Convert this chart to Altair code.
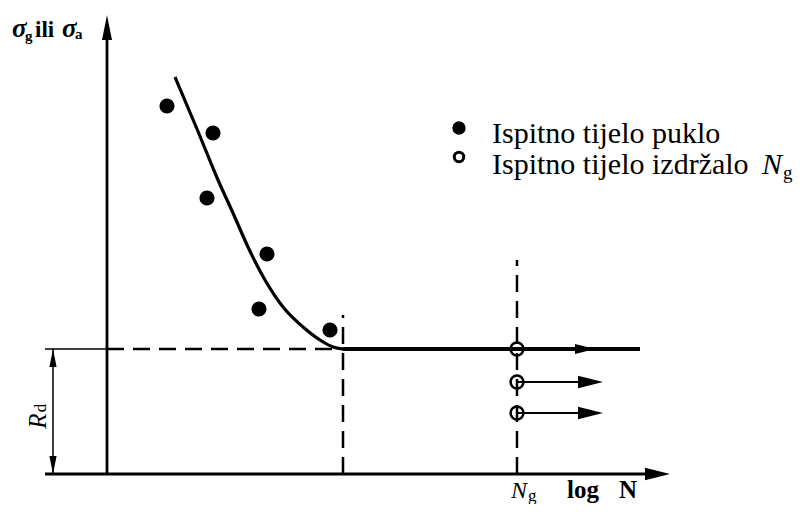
import altair as alt
import pandas as pd

# ---------------- data (schematic units: x = log N, y = stress) ----------------
# failed specimens
fail_x = [60, 106, 100, 160, 152, 223]
fail_y = [368, 341, 276, 220, 165, 144]
# fitted Woehler curve
curve_x = [68, 90, 111, 126, 141, 158, 176, 196, 213, 226, 236]
curve_y = [397, 345, 294, 261, 227, 194, 167, 147, 134, 127, 125]
# run-outs (survived N_g)
runout_x = [410, 410, 410]
runout_y = [125, 92, 61]
# characteristic values
Rd = 125          # fatigue strength
N_knee = 236      # knee of the curve
N_g = 410         # limit number of cycles

legend_labels = ["Ispitno tijelo puklo", "Ispitno tijelo izdržalo "]

# ---------------- scales ----------------
X = lambda f="x": alt.X(f"{f}:Q", scale=alt.Scale(domain=[-99, 691], nice=False, zero=False), axis=None)
Y = lambda f="y": alt.Y(f"{f}:Q", scale=alt.Scale(domain=[-30, 466], nice=False, zero=False), axis=None)

def segs(rows, **kw):
    df = pd.DataFrame(rows, columns=["x", "y", "x2", "y2"])
    return alt.Chart(df).mark_rule(color="black", **kw).encode(
        x=X(), y=Y(), x2="x2:Q", y2="y2:Q")

def pts(xs, ys, **kw):
    df = pd.DataFrame({"x": xs, "y": ys})
    return alt.Chart(df).mark_point(color="black", opacity=1, **kw).encode(x=X(), y=Y())

def txt(xs, ys, texts, **kw):
    df = pd.DataFrame({"x": xs, "y": ys, "t": texts})
    base = dict(font="Liberation Serif", color="black", align="left", baseline="alphabetic")
    base.update(kw)
    return alt.Chart(df).mark_text(**base).encode(x=X(), y=Y(), text="t:N")

ARROW_R = "M0,0L-2,-0.5L-2,0.5Z"
ARROW_U = "M0,0L-0.4,2L0.4,2Z"
ARROW_D = "M0,0L-0.4,-2L0.4,-2Z"

layers = []
# axes
layers.append(segs([[0, 0, 0, 445], [-62, 0, 550, 0]], strokeWidth=2.8))
# extension / dimension lines
layers.append(segs([[-62, Rd, 0, Rd], [-54, 0, -54, Rd]], strokeWidth=1.5))
# dashed guide lines
layers.append(segs([[0, Rd, N_knee, Rd], [N_knee, 0, N_knee, 159], [N_g, 0, N_g, 214]],
                   strokeWidth=2.5, strokeDash=[17, 9]))
# endurance limit line
layers.append(segs([[N_knee, Rd, 533, Rd]], strokeWidth=4))
# run-out arrows
layers.append(segs([[N_g, runout_y[1], 485, runout_y[1]], [N_g, runout_y[2], 485, runout_y[2]]],
                   strokeWidth=2))
# curve
curve_df = pd.DataFrame({"x": curve_x, "y": curve_y})
layers.append(alt.Chart(curve_df).mark_line(color="black", strokeWidth=3.2, interpolate="monotone")
              .encode(x=X(), y=Y()))
# arrowheads
layers.append(pts([0], [459], shape=ARROW_U, size=625, filled=True))
layers.append(pts([563], [0], shape=ARROW_R, size=625, filled=True))
layers.append(pts([488], [Rd], shape=ARROW_R, size=400, filled=True))
layers.append(pts([496, 496], [runout_y[1], runout_y[2]], shape=ARROW_R, size=625, filled=True))
layers.append(pts([-54], [Rd], shape=ARROW_U, size=324, filled=True))
layers.append(pts([-54], [0], shape=ARROW_D, size=324, filled=True))
# data points
layers.append(pts(fail_x, fail_y, shape="circle", size=230, filled=True))
layers.append(pts(runout_x, runout_y, shape="circle", size=165, filled=False, strokeWidth=2.5))
# legend
layers.append(pts([352], [346], shape="circle", size=177, filled=True))
layers.append(pts([352], [317], shape="circle", size=90, filled=False, strokeWidth=3))
layers.append(txt([385, 385], [331, 300], legend_labels, fontSize=30))
layers.append(txt([655], [300], ["N"], fontSize=30, fontStyle="italic"))
layers.append(txt([676], [295], ["g"], fontSize=19))
# y-axis title  sigma_g ili sigma_a
layers.append(txt([-95, -45], [437, 437], ["σ", "σ"], fontSize=27, fontStyle="italic", fontWeight="bold"))
layers.append(txt([-82, -32], [433, 435], ["g", "a"], fontSize=15, fontWeight="bold"))
layers.append(txt([-72], [437], ["ili"], fontSize=23, fontWeight="bold"))
# x-axis labels
layers.append(txt([404], [-24], ["N"], fontSize=24, fontStyle="italic"))
layers.append(txt([421], [-27], ["g"], fontSize=17))
layers.append(txt([460, 512], [-24, -24], ["log", "N"], fontSize=25, fontWeight="bold"))
# R_d
layers.append(txt([-69], [53], ["R"], fontSize=25, fontStyle="italic", angle=270,
                  align="center", baseline="middle"))
layers.append(txt([-66], [66], ["d"], fontSize=17, angle=270, align="center", baseline="middle"))

chart = alt.layer(*layers).properties(
    width=790, height=496, padding=0,
    autosize=alt.AutoSizeParams(type="none"),
    background="white",
).configure_view(stroke=None)

chart.save("out.html", embed_options={"renderer": "svg", "actions": False})
